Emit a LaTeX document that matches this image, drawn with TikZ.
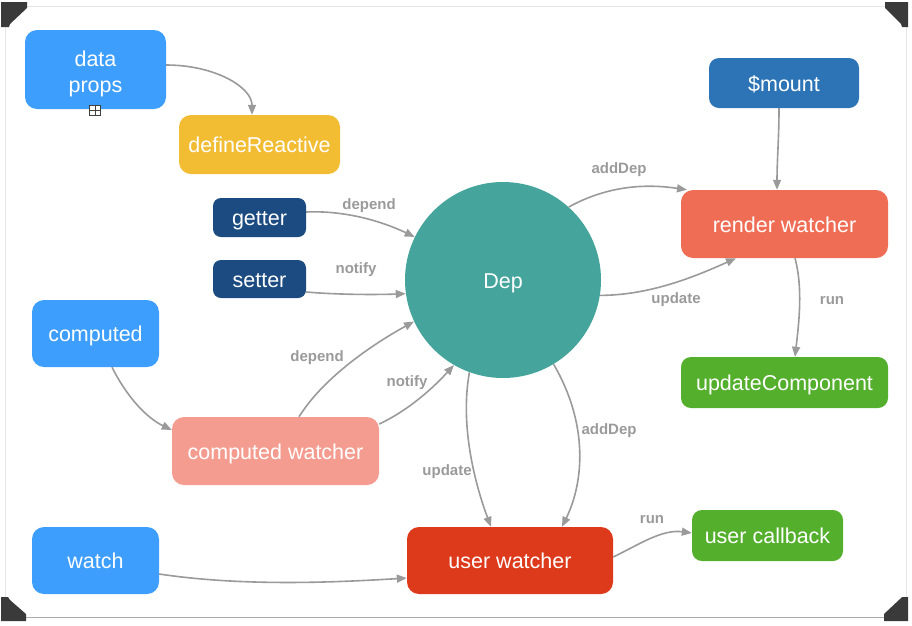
\documentclass[tikz,border=0pt]{standalone}
\usepackage{fontspec}
\setmainfont{Liberation Sans}
\usetikzlibrary{arrows.meta}
\definecolor{lblue}{HTML}{3D9EFD}
\definecolor{dyellow}{HTML}{F2BD33}
\definecolor{navy}{HTML}{1B4B80}
\definecolor{mblue}{HTML}{2C74B6}
\definecolor{teal}{HTML}{45A59C}
\definecolor{rorange}{HTML}{F06D55}
\definecolor{ggreen}{HTML}{53AF2C}
\definecolor{salmon}{HTML}{F49C8F}
\definecolor{ured}{HTML}{DD391B}
\definecolor{lgray}{HTML}{9A9A9A}
\definecolor{cornerc}{HTML}{3A3A3A}
\begin{document}
\begin{tikzpicture}[x=1pt,y=-1pt,
  box/.style={rectangle, rounded corners=12pt, text=white, font=\fontsize{21.5}{26}\selectfont, inner sep=0pt, draw=none, text depth=0pt, text height=16.5pt},
  lbl/.style={text=lgray, font=\bfseries\fontsize{15}{17}\selectfont, inner sep=0pt},
  conn/.style={draw=lgray, line width=1.6pt, -{Triangle[length=10pt,width=8pt]}}]
\useasboundingbox (0,0) rectangle (912,625);
% frame
\draw[gray!20, line width=0.8pt] (5,617) -- (5,6) -- (906,6) -- (906,617);
\draw[gray!65, line width=0.8pt] (5,617) -- (906,617);
\fill[cornerc] (1,2) -- (27,2) -- (27,8) -- (10,24) -- (9,27) -- (1,27) -- cycle;
\fill[cornerc] (885,2) -- (908,2) -- (908,27) -- (902,27) -- (901,24) -- (885,8) -- cycle;
\fill[cornerc] (908,597) -- (908,621) -- (884,621) -- (884,614) -- (900,599) -- (902,597) -- cycle;
\fill[cornerc] (1,597) -- (8,597) -- (10,600) -- (26,614) -- (26,621) -- (1,621) -- cycle;
% nodes
\node[box, fill=lblue, minimum width=141pt, minimum height=79pt, align=center, text height=, text depth=] (data) at (95.5,69.5) {\rule{0pt}{24pt}data\\props};
\node[box, fill=dyellow, minimum width=161pt, minimum height=59pt] (def) at (259.5,144.5) {defineReactive};
\node[box, fill=navy, rounded corners=8pt, minimum width=93pt, minimum height=39pt] (getter) at (259.5,217.5) {getter};
\node[box, fill=navy, rounded corners=8pt, minimum width=93pt, minimum height=38pt] (setter) at (259.5,279) {setter};
\node[circle, fill=teal, minimum size=196pt, inner sep=0pt, text=white, font=\fontsize{21.5}{26}\selectfont, text depth=0pt, text height=16.5pt] (dep) at (503,280) {Dep};
\node[box, fill=mblue, rounded corners=10pt, minimum width=150pt, minimum height=50pt] (mount) at (784,83) {\$mount};
\node[box, fill=rorange, minimum width=207pt, minimum height=68pt] (render) at (784.5,224) {render watcher};
\node[box, fill=ggreen, rounded corners=10pt, minimum width=207pt, minimum height=51pt] (updc) at (784.5,382.5) {updateComponent};
\node[box, fill=lblue, minimum width=127pt, minimum height=67pt] (computed) at (95.5,333.5) {computed};
\node[box, fill=salmon, minimum width=207pt, minimum height=68pt] (cw) at (275.5,451) {computed watcher};
\node[box, fill=lblue, minimum width=127pt, minimum height=67pt] (watch) at (95.5,560.5) {watch};
\node[box, fill=ured, minimum width=206pt, minimum height=67pt] (uw) at (510,560.5) {user watcher};
\node[box, fill=ggreen, rounded corners=10pt, minimum width=151pt, minimum height=51pt] (ucb) at (767.5,535.5) {user callback};
% fold icon
\node[draw=black!75, fill=white, minimum size=10.5pt, inner sep=0pt, line width=0.7pt] (fold) at (95,110.5) {};
\draw[black!75, line width=0.7pt] (fold.north) -- (fold.south) (fold.west) -- (fold.east);
% connectors
\draw[conn] ([yshift=4.5pt]data.east) .. controls +(48,0) and +(0,-28) .. ([xshift=-7.5pt]def.north);
\draw[conn] ([yshift=5.5pt]getter.east) .. controls +(45,-2) and +(-25,-12) .. (dep.154);
\draw[conn] ([yshift=-13pt]setter.east) .. controls +(35,3) and +(-25,1) .. (dep.188);
\draw[conn] ([xshift=16.5pt]computed.south) .. controls +(15,30) and +(-25,-12) .. ([yshift=21pt]cw.west);
\draw[conn] ([xshift=23.5pt]cw.north) .. controls +(25,-40) and +(-40,22) .. (dep.205);
\draw[conn] ([yshift=27pt]cw.east) .. controls +(30,-14) and +(-20,22) .. (dep.240);
\draw[conn] (dep.48) .. controls +(40,-22) and +(-40,-6) .. ([xshift=-97.5pt]render.north);
\draw[conn] (dep.-9) .. controls +(50,0) and +(-40,18) .. ([xshift=-48.5pt]render.south);
\draw[conn] ([xshift=-5pt]mount.south) .. controls +(0,30) and +(0,-30) .. ([xshift=-7.5pt]render.north);
\draw[conn] ([xshift=10.5pt]render.south) .. controls +(8,30) and +(4,-35) .. ([xshift=10.5pt]updc.north);
\draw[conn] (dep.250) .. controls +(-10,55) and +(-15,-40) .. ([xshift=-19pt]uw.north);
\draw[conn] (dep.301) .. controls +(35,60) and +(22,-45) .. ([xshift=52pt]uw.north);
\draw[conn] ([yshift=-13.5pt]watch.east) .. controls +(80,12) and +(-80,5) .. ([yshift=-17.5pt]uw.west);
\draw[conn] ([yshift=3.5pt]uw.east) .. controls +(25,-12) and +(-30,-4) .. ([yshift=2.5pt]ucb.west);
% labels
\node[lbl] (l1) at (369,206) {depend};
\node[lbl] (l2) at (356,270) {notify};
\node[lbl] (l3) at (317,358) {depend};
\node[lbl] (l4) at (407,383) {notify};
\node[lbl] (l5) at (619,170) {addDep};
\node[lbl] (l6) at (676,300) {update};
\node[lbl] (l7) at (832,301) {run};
\node[lbl] (l8) at (447,472) {update};
\node[lbl] (l9) at (609,431) {addDep};
\node[lbl] (l10) at (652,520) {run};
\end{tikzpicture}
\end{document}
